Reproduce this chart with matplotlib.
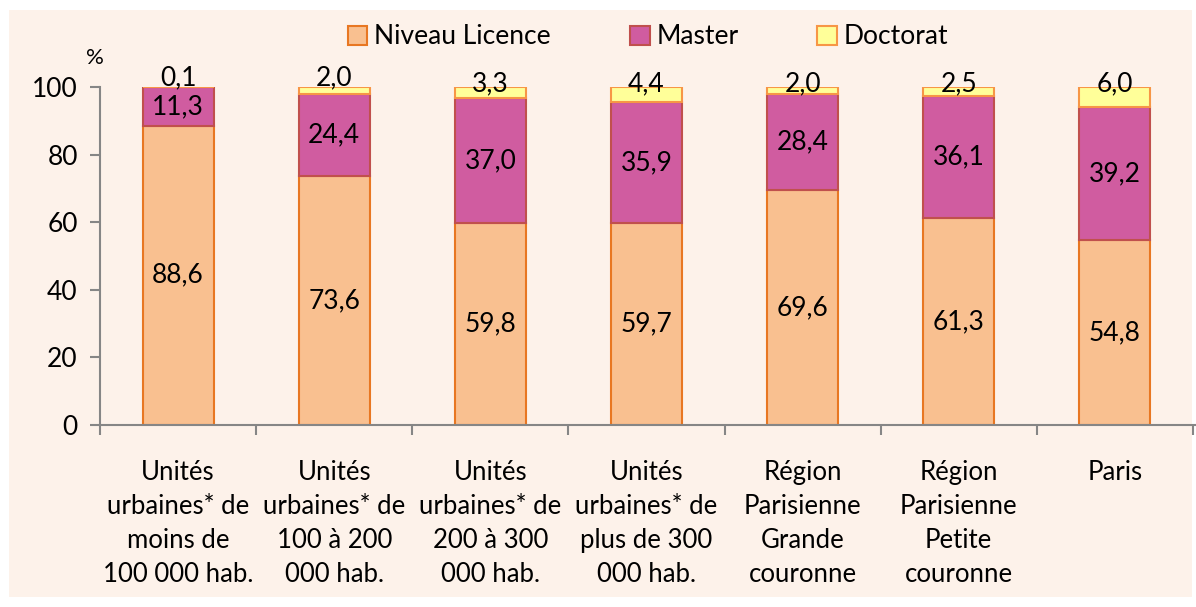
import matplotlib.pyplot as plt
import numpy as np
from matplotlib.patches import Rectangle

plt.rcParams['font.family'] = ['Lato', 'DejaVu Sans']

categories = [
    "Unités\nurbaines* de\nmoins de\n100 000 hab.",
    "Unités\nurbaines* de\n100 à 200\n000 hab.",
    "Unités\nurbaines* de\n200 à 300\n000 hab.",
    "Unités\nurbaines* de\nplus de 300\n000 hab.",
    "Région\nParisienne\nGrande\ncouronne",
    "Région\nParisienne\nPetite\ncouronne",
    "Paris",
]
licence = [88.6, 73.6, 59.8, 59.7, 69.6, 61.3, 54.8]
master = [11.3, 24.4, 37.0, 35.9, 28.4, 36.1, 39.2]
doctorat = [0.1, 2.0, 3.3, 4.4, 2.0, 2.5, 6.0]

bg = "#FDF2EA"
fig = plt.figure(figsize=(11.96, 6.07), dpi=100)
fig.patches.append(Rectangle((9 / 1196, 10 / 607), 1183 / 1196, 587 / 607,
                             transform=fig.transFigure, facecolor=bg,
                             edgecolor="none", zorder=-10))

ax = fig.add_axes([100 / 1196, 1 - 425 / 607, 1096 / 1196, 338 / 607])
ax.set_facecolor("none")

x = np.arange(len(categories))
w = 0.455
series = [
    ("Niveau Licence", licence, "#F9C090", "#E87722"),
    ("Master", master, "#D05CA0", "#C0504D"),
    ("Doctorat", doctorat, "#FFFF99", "#F79646"),
]
fs = 18.5
bottom = np.zeros(len(categories))
for name, vals, fc, ec in series:
    vals = np.array(vals)
    ax.bar(x, vals, w, bottom=bottom, color=fc, edgecolor=ec, linewidth=1.5,
           label=name, zorder=3)
    for xi, b, v in zip(x, bottom, vals):
        y = b + v / 2
        if name == "Doctorat":
            y = max(y, 100.8)
            if v < 2.2 and xi < 2:
                y = 102.8
        txt = f"{v:.1f}".replace(".", ",")
        ax.text(xi, y, txt, ha="center", va="center", fontsize=fs + 0.5, zorder=4)
    bottom += vals

ax.set_xlim(-0.5, len(categories) - 0.5 + 0.02)
ax.set_ylim(0, 100)
ax.set_yticks(range(0, 101, 20))
ax.set_xticks(x)
ax.set_xticklabels(categories, fontsize=fs, linespacing=1.45, va="top")
ax.set_xticks(np.arange(-0.5, len(categories) - 0.4, 1), minor=True)
ax.tick_params(axis="x", which="major", length=0, pad=25)
ax.tick_params(axis="x", which="minor", length=7, color="#868686", width=1.5)
ax.tick_params(axis="y", length=7, color="#868686", width=1.5, labelsize=19, pad=9)
for s in ["top", "right"]:
    ax.spines[s].set_visible(False)
for s in ["left", "bottom"]:
    ax.spines[s].set_color("#868686")
    ax.spines[s].set_linewidth(1.5)
ax.spines["bottom"].set_zorder(5)

fig.text(95 / 1196, 1 - 58 / 607, "%", fontsize=16, ha="center", va="center")

handles, labels = ax.get_legend_handles_labels()
fig.legend(handles, labels, loc="center", bbox_to_anchor=(648 / 1196, 1 - 37 / 607),
           ncol=3, frameon=False, fontsize=19, handlelength=0.75, handleheight=0.75,
           handletextpad=0.25, columnspacing=3.0)

fig.savefig("out.png", dpi=100)
